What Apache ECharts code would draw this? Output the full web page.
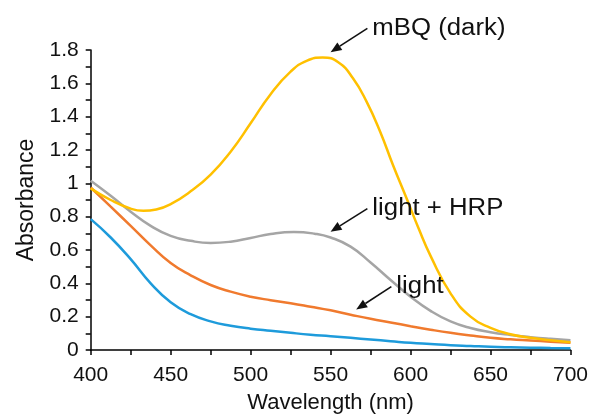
<!DOCTYPE html>
<html>
<head>
<meta charset="utf-8">
<script src="https://cdn.jsdelivr.net/npm/echarts@6/dist/echarts.min.js"></script>
<style>
  html, body { margin: 0; padding: 0; background: #fff; }
  #chart { width: 591px; height: 419px; }
</style>
</head>
<body>
<div id="chart"></div>
<script>
// wavelengths (nm) for each curve and the absorbance
const darkWl     = [400, 412.5, 425, 433, 441, 450, 462.5, 475, 487.5, 500, 512.5, 525, 535, 545, 555, 564, 572.5, 581, 589, 597.5, 605, 612.5, 625, 637.5, 650, 662.5, 675, 687.5, 700];
const darkValues = [0.97, 0.90, 0.848, 0.835, 0.843, 0.875, 0.952, 1.052, 1.19, 1.36, 1.535, 1.67, 1.735, 1.755, 1.725, 1.63, 1.49, 1.31, 1.11, 0.91, 0.73, 0.565, 0.34, 0.20, 0.133, 0.095, 0.073, 0.058, 0.047];

const hrpWl     = [400, 412.5, 425, 437.5, 450, 462.5, 475, 487.5, 500, 512.5, 527, 540, 550, 562.5, 575, 587.5, 600, 612.5, 625, 637.5, 650, 662.5, 675, 687.5, 700];
const hrpValues = [1.015, 0.925, 0.83, 0.745, 0.685, 0.655, 0.642, 0.65, 0.672, 0.696, 0.708, 0.698, 0.675, 0.62, 0.525, 0.42, 0.32, 0.235, 0.172, 0.132, 0.107, 0.09, 0.077, 0.067, 0.059];

const lightWl     = [400, 412.5, 425, 437.5, 450, 462.5, 475, 487.5, 500, 512.5, 525, 537.5, 550, 562.5, 575, 587.5, 600, 612.5, 625, 637.5, 650, 662.5, 675, 687.5, 700];
const lightValues = [0.975, 0.86, 0.745, 0.628, 0.522, 0.448, 0.39, 0.35, 0.32, 0.299, 0.281, 0.26, 0.238, 0.212, 0.187, 0.165, 0.143, 0.122, 0.103, 0.087, 0.073, 0.064, 0.057, 0.05, 0.043];

const blankWl     = [400, 412.5, 425, 437.5, 450, 462.5, 475, 487.5, 500, 512.5, 525, 537.5, 550, 562.5, 575, 587.5, 600, 612.5, 625, 637.5, 650, 662.5, 675, 687.5, 700];
const blankValues = [0.785, 0.675, 0.545, 0.40, 0.286, 0.215, 0.172, 0.146, 0.128, 0.115, 0.103, 0.092, 0.083, 0.073, 0.063, 0.053, 0.043, 0.036, 0.029, 0.024, 0.019, 0.016, 0.014, 0.012, 0.011];

const xTicks = [400, 450, 500, 550, 600, 650, 700];
const yTicks = [0, 0.2, 0.4, 0.6, 0.8, 1, 1.2, 1.4, 1.6, 1.8];

// annotations: text, arrow tail and arrow head in data units
const notes = [
  { text: 'mBQ (dark)', tail: [573, 1.93], head: [550, 1.787] },
  { text: 'light + HRP', tail: [573, 0.848], head: [550, 0.71] },
  { text: 'light', tail: [588, 0.38], head: [566, 0.243] }
];

const font = 'Arial, "Liberation Sans", sans-serif';

function pairs(wl, values) {
  return wl.map((w, i) => [w, values[i]]);
}

function lineSeries(name, wl, values, color) {
  return {
    type: 'line',
    name: name,
    data: pairs(wl, values),
    smooth: 0.5,
    showSymbol: false,
    symbol: 'none',
    lineStyle: { color: color, width: 2.5 },
    z: 3
  };
}

const chart = echarts.init(document.getElementById('chart'));

const axisCommon = {
  axisLine: { show: true, lineStyle: { color: '#000', width: 1.5 } },
  axisTick: { show: true, inside: false, length: 5, lineStyle: { color: '#000', width: 1.5 } },
  minorTick: { show: true, splitNumber: 2, length: 5, lineStyle: { color: '#000', width: 1.5 } },
  splitLine: { show: false },
  axisLabel: { color: '#111', fontSize: 21, fontFamily: font },
  nameTextStyle: { color: '#111', fontSize: 22, fontFamily: font }
};

chart.setOption({
  animation: false,
  backgroundColor: '#fff',
  grid: { left: 90.7, right: 20.3, top: 50, bottom: 68.5, containLabel: false },
  xAxis: Object.assign({}, axisCommon, {
    type: 'value',
    min: xTicks[0],
    max: xTicks[xTicks.length - 1],
    interval: 50,
    name: 'Wavelength (nm)',
    nameLocation: 'middle',
    nameGap: 42,
    axisLabel: Object.assign({}, axisCommon.axisLabel, { margin: 15 })
  }),
  yAxis: Object.assign({}, axisCommon, {
    type: 'value',
    min: yTicks[0],
    max: yTicks[yTicks.length - 1],
    interval: 0.2,
    name: 'Absorbance',
    nameLocation: 'middle',
    nameGap: 52,
    nameTextStyle: Object.assign({}, axisCommon.nameTextStyle, { fontSize: 23 }),
    axisLabel: Object.assign({}, axisCommon.axisLabel, { margin: 12 })
  }),
  series: [
    lineSeries('light + HRP', hrpWl, hrpValues, '#A5A5A5'),
    lineSeries('light', lightWl, lightValues, '#F07A2E'),
    lineSeries('blank', blankWl, blankValues, '#1E9BDB'),
    lineSeries('mBQ (dark)', darkWl, darkValues, '#FFC000')
  ]
});

// arrows and labels placed from data coordinates
const graphics = [];
notes.forEach(n => {
  const t = chart.convertToPixel({ gridIndex: 0 }, n.tail);
  const h = chart.convertToPixel({ gridIndex: 0 }, n.head);
  const ang = Math.atan2(h[1] - t[1], h[0] - t[0]);
  const len = 11, half = 4.5;
  const bx = h[0] - len * Math.cos(ang), by = h[1] - len * Math.sin(ang);
  const px = -Math.sin(ang), py = Math.cos(ang);
  graphics.push({
    type: 'line',
    shape: { x1: t[0], y1: t[1], x2: bx, y2: by },
    style: { stroke: '#111', lineWidth: 1.6 },
    z: 10
  });
  graphics.push({
    type: 'polygon',
    shape: { points: [[h[0], h[1]], [bx + px * half, by + py * half], [bx - px * half, by - py * half]] },
    style: { fill: '#111' },
    z: 10
  });
  graphics.push({
    type: 'text',
    x: t[0] + 5,
    y: t[1],
    scaleX: 1.12,
    style: {
      text: n.text,
      fill: '#111',
      font: '23px ' + font,
      textAlign: 'left',
      textVerticalAlign: 'middle'
    },
    z: 10
  });
});
chart.setOption({ graphic: graphics });
</script>
</body>
</html>
